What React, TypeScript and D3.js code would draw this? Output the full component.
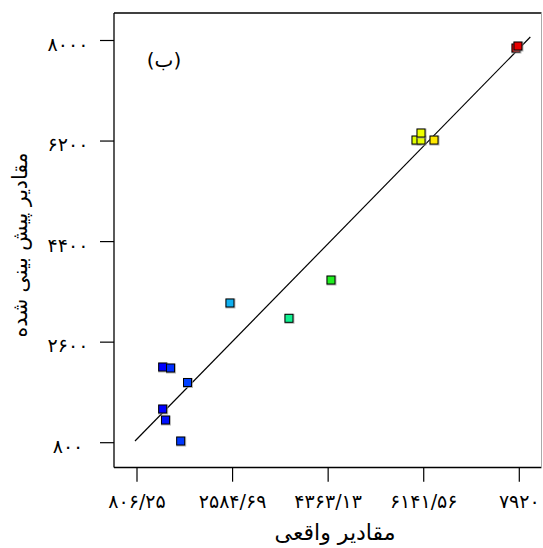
import React from "react";
import * as d3 from "d3";

const xTicks = [806.25, 2584.69, 4363.13, 6141.56, 7920];
const xTickLabels = ["۸۰۶/۲۵", "۲۵۸۴/۶۹", "۴۳۶۳/۱۳", "۶۱۴۱/۵۶", "۷۹۲۰"];
const yTicks = [800, 2600, 4400, 6200, 8000];
const yTickLabels = ["۸۰۰", "۲۶۰۰", "۴۴۰۰", "۶۲۰۰", "۸۰۰۰"];

const actual = [1284, 1430, 1746, 1284, 1336, 1619, 2536, 3634, 4416, 5998, 6091, 6091, 6333, 7858, 7895];
const predicted = [2155, 2137, 1878, 1403, 1206, 830, 3301, 3027, 3712, 6218, 6218, 6344, 6218, 7865, 7901];
const colors = [
  "#0000ff", "#0030ff", "#0040ff", "#0000ff", "#0010ff", "#0038ff",
  "#10b0f0", "#10f090", "#20ee20",
  "#e0ff00", "#e8ff00", "#eeff00", "#ffe800",
  "#ff0000", "#e80000",
];

const fitX = [769, 8125];
const fitY = [830, 8063];

const xTitle = "مقادیر واقعی";
const yTitle = "مقادیر پیش بینی شده";
const panelLabel = "(ب)";

export default function App() {
  const W = 543, H = 548;
  const box = { left: 114, right: 541.5, top: 13, bottom: 467.5 };
  const x = d3.scaleLinear().domain([806.25, 7920]).range([137, 519.3]);
  const y = d3.scaleLinear().domain([800, 8000]).range([442.7, 40.5]);
  const font = "DejaVu Sans";
  const s = 8;
  const line = d3.line<number>().x((d) => x(fitX[d])).y((d) => y(fitY[d]));

  return (
    <svg width={W} height={H} style={{ position: "absolute", left: 0, top: 0, background: "#fff" }} fontFamily={font}>
      <rect x={0} y={0} width={W} height={H} fill="#fff" />
      <line x1={box.left} x2={box.right} y1={box.top} y2={box.top} stroke="#000" strokeWidth={1.3} />
      <line x1={box.left} x2={box.left} y1={box.top} y2={box.bottom} stroke="#000" strokeWidth={1.3} />
      <line x1={box.left} x2={box.right} y1={box.bottom} y2={box.bottom} stroke="#000" strokeWidth={1.3} />
      <line x1={box.right} x2={box.right} y1={box.top} y2={box.bottom} stroke="#aaa" strokeWidth={1} />
      {yTicks.map((t, i) => (
        <g key={"y" + i}>
          <line x1={100} x2={box.left} y1={y(t)} y2={y(t)} stroke="#000" strokeWidth={1.2} />
          <text x={68} y={y(t) + 10} textAnchor="middle" fontSize={19} direction="ltr">{yTickLabels[i]}</text>
        </g>
      ))}
      {xTicks.map((t, i) => (
        <g key={"x" + i}>
          <line x1={x(t)} x2={x(t)} y1={box.bottom} y2={481.7} stroke="#000" strokeWidth={1.2} />
          <text x={x(t)} y={508} textAnchor="middle" fontSize={19} direction="ltr">{xTickLabels[i]}</text>
        </g>
      ))}
      <path d={line([0, 1]) || ""} stroke="#000" strokeWidth={1.2} fill="none" />
      {actual.map((a, i) => (
        <g key={"p" + i}>
          <rect x={x(a) - s / 2 - 0.5} y={y(predicted[i]) - s / 2 - 0.5} width={s + 2} height={s + 2} fill="#999" opacity={0.7} />
          <rect x={x(a) - s / 2} y={y(predicted[i]) - s / 2} width={s} height={s} fill={colors[i]} stroke="#000" strokeWidth={1} />
        </g>
      ))}
      <text x={164} y={67} textAnchor="middle" fontSize={20} direction="rtl">{panelLabel}</text>
      <text x={335} y={540} textAnchor="middle" fontSize={22} direction="rtl">{xTitle}</text>
      <text transform="translate(27,245) rotate(-90)" textAnchor="middle" fontSize={20.5} direction="rtl">{yTitle}</text>
    </svg>
  );
}
